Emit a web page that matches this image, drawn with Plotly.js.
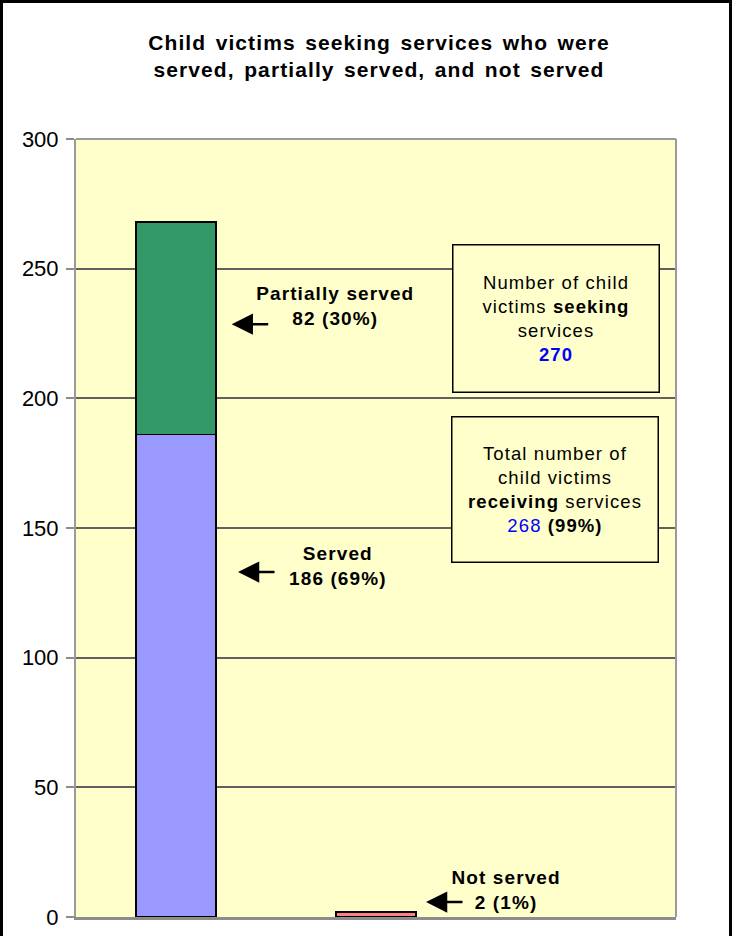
<!DOCTYPE html>
<html>
<head>
<meta charset="utf-8">
<script src="https://cdn.plot.ly/plotly-3.0.1.min.js"></script>
<style>
  html, body { margin: 0; padding: 0; background: #ffffff; }
  #chart { width: 732px; height: 936px; }
  #chart .gtitle { letter-spacing: 1.1px; word-spacing: 2.5px; }
  #chart .annotation-text { letter-spacing: 1.1px; }
</style>
</head>
<body>
<div id="chart"></div>
<script>
// ---- data ----
const categories = ["Child victims seeking services", "Not served"];
const seriesNames = ["Served", "Partially served", "Not served"];
const servedValues = [186, null];
const partialValues = [82, null];
const notServedValues = [null, 2];
const yTickValues = [0, 50, 100, 150, 200, 250, 300];
const yTickLabels = ["0", "50", "100", "150", "200", "250", "300"];
const titleLines = ["Child victims seeking services who were", "served, partially served, and not served"];

const totalSeeking = servedValues[0] + partialValues[0] + notServedValues[1];
const totalReceiving = servedValues[0] + partialValues[0];
const pct = v => Math.round(100 * v / totalSeeking);

const barEdge = { color: "#000000", width: 1.5 };
const traces = [
  { type: "bar", name: seriesNames[0], x: categories, y: servedValues, width: 0.4,
    marker: { color: "#9999FF", line: barEdge }, hoverinfo: "skip" },
  { type: "bar", name: seriesNames[1], x: categories, y: partialValues, width: 0.4,
    marker: { color: "#339966", line: barEdge }, hoverinfo: "skip" },
  { type: "bar", name: seriesNames[2], x: categories, y: notServedValues, width: 0.4,
    marker: { color: "#FF8080", line: barEdge }, hoverinfo: "skip" }
];

const labelFont = { family: "Liberation Sans, Arial, sans-serif", size: 19, color: "#000000" };
const boxFont = { family: "Liberation Sans, Arial, sans-serif", size: 18.5, color: "#000000" };

function arrow(x, y) {
  return { x: x, y: y, xref: "x", yref: "y", text: "", showarrow: true,
    ax: 38, ay: 0, arrowhead: 2, arrowsize: 1.7, arrowwidth: 2.5, arrowcolor: "#000000" };
}

const annotations = [
  { x: 0.795, y: 235.5, xref: "x", yref: "y", showarrow: false, align: "center",
    text: "<b>" + seriesNames[1] + "<br>" + partialValues[0] + " (" + pct(partialValues[0]) + "%)</b>", font: labelFont },
  arrow(0.2785, 228.6),
  { x: 0.81, y: 135.3, xref: "x", yref: "y", showarrow: false, align: "center",
    text: "<b>" + seriesNames[0] + "<br>" + servedValues[0] + " (" + pct(servedValues[0]) + "%)</b>", font: labelFont },
  arrow(0.31, 133.0),
  { x: 1.65, y: 10.4, xref: "x", yref: "y", showarrow: false, align: "center",
    text: "<b>" + seriesNames[2] + "<br>" + notServedValues[1] + " (" + pct(notServedValues[1]) + "%)</b>", font: labelFont },
  arrow(1.25, 5.78),
  { x: 1.8975, y: 230.9, xref: "x", yref: "y", showarrow: false, align: "center",
    width: 205, height: 146, borderpad: 0, bordercolor: "#000000", borderwidth: 1.5, bgcolor: "#FFFFCC",
    text: "Number of child<br>victims <b>seeking</b><br>services<br><b><span style='color:#0000FF'>" + totalSeeking + "</span></b>",
    font: boxFont },
  { x: 1.8925, y: 165.0, xref: "x", yref: "y", showarrow: false, align: "center",
    width: 205, height: 144, borderpad: 0, bordercolor: "#000000", borderwidth: 1.5, bgcolor: "#FFFFCC",
    text: "Total number of<br>child victims<br><b>receiving</b> services<br><span style='color:#0000FF'>" + totalReceiving + "</span> <b>(" + pct(totalReceiving) + "%)</b>",
    font: boxFont }
];

const layout = {
  width: 732, height: 936,
  margin: { l: 76, r: 56, t: 139, b: 19, pad: 0 },
  paper_bgcolor: "#FFFFFF",
  plot_bgcolor: "#FFFFCC",
  barmode: "stack",
  showlegend: false,
  hovermode: false,
  font: { family: "Liberation Sans, Arial, sans-serif", color: "#000000" },
  title: {
    text: "<b>" + titleLines[0] + "<br>" + titleLines[1] + "</b>",
    font: { family: "Liberation Sans, Arial, sans-serif", size: 21, color: "#000000" },
    x: 379 / 732, xref: "container", xanchor: "center",
    y: 1 - 50 / 936, yref: "container", yanchor: "top"
  },
  xaxis: {
    type: "category", range: [-0.5, 2.5], showticklabels: false, ticks: "",
    showgrid: false, zeroline: false, fixedrange: true,
    showline: true, linecolor: "#8C8C8C", linewidth: 3, mirror: false
  },
  yaxis: {
    range: [0, 300], tickvals: yTickValues, ticktext: yTickLabels,
    tickfont: { family: "Liberation Sans, Arial, sans-serif", size: 22, color: "#000000" },
    ticks: "outside", ticklen: 8, tickwidth: 2, tickcolor: "#8C8C8C", ticklabelstandoff: 3,
    showgrid: true, gridcolor: "#606060", gridwidth: 2,
    zeroline: false, fixedrange: true,
    showline: true, linecolor: "#9A9A9A", linewidth: 2
  },
  shapes: [
    // grey plot-area frame (top and right)
    { type: "line", xref: "paper", yref: "paper", x0: 0, x1: 1, y0: 1, y1: 1,
      line: { color: "#9A9A9A", width: 2 } },
    { type: "line", xref: "paper", yref: "paper", x0: 1, x1: 1, y0: 0, y1: 1,
      line: { color: "#9A9A9A", width: 2 } },
    // outer black chart frame
    { type: "rect", xref: "paper", yref: "paper", layer: "above",
      x0: (1.5 - 76) / 600, x1: (730.5 - 76) / 600, y0: (917 - 945) / 778, y1: (917 - 1.5) / 778,
      line: { color: "#000000", width: 3 }, fillcolor: "rgba(0,0,0,0)" }
  ],
  annotations: annotations
};

Plotly.newPlot("chart", traces, layout, { displayModeBar: false, staticPlot: true });
</script>
</body>
</html>
